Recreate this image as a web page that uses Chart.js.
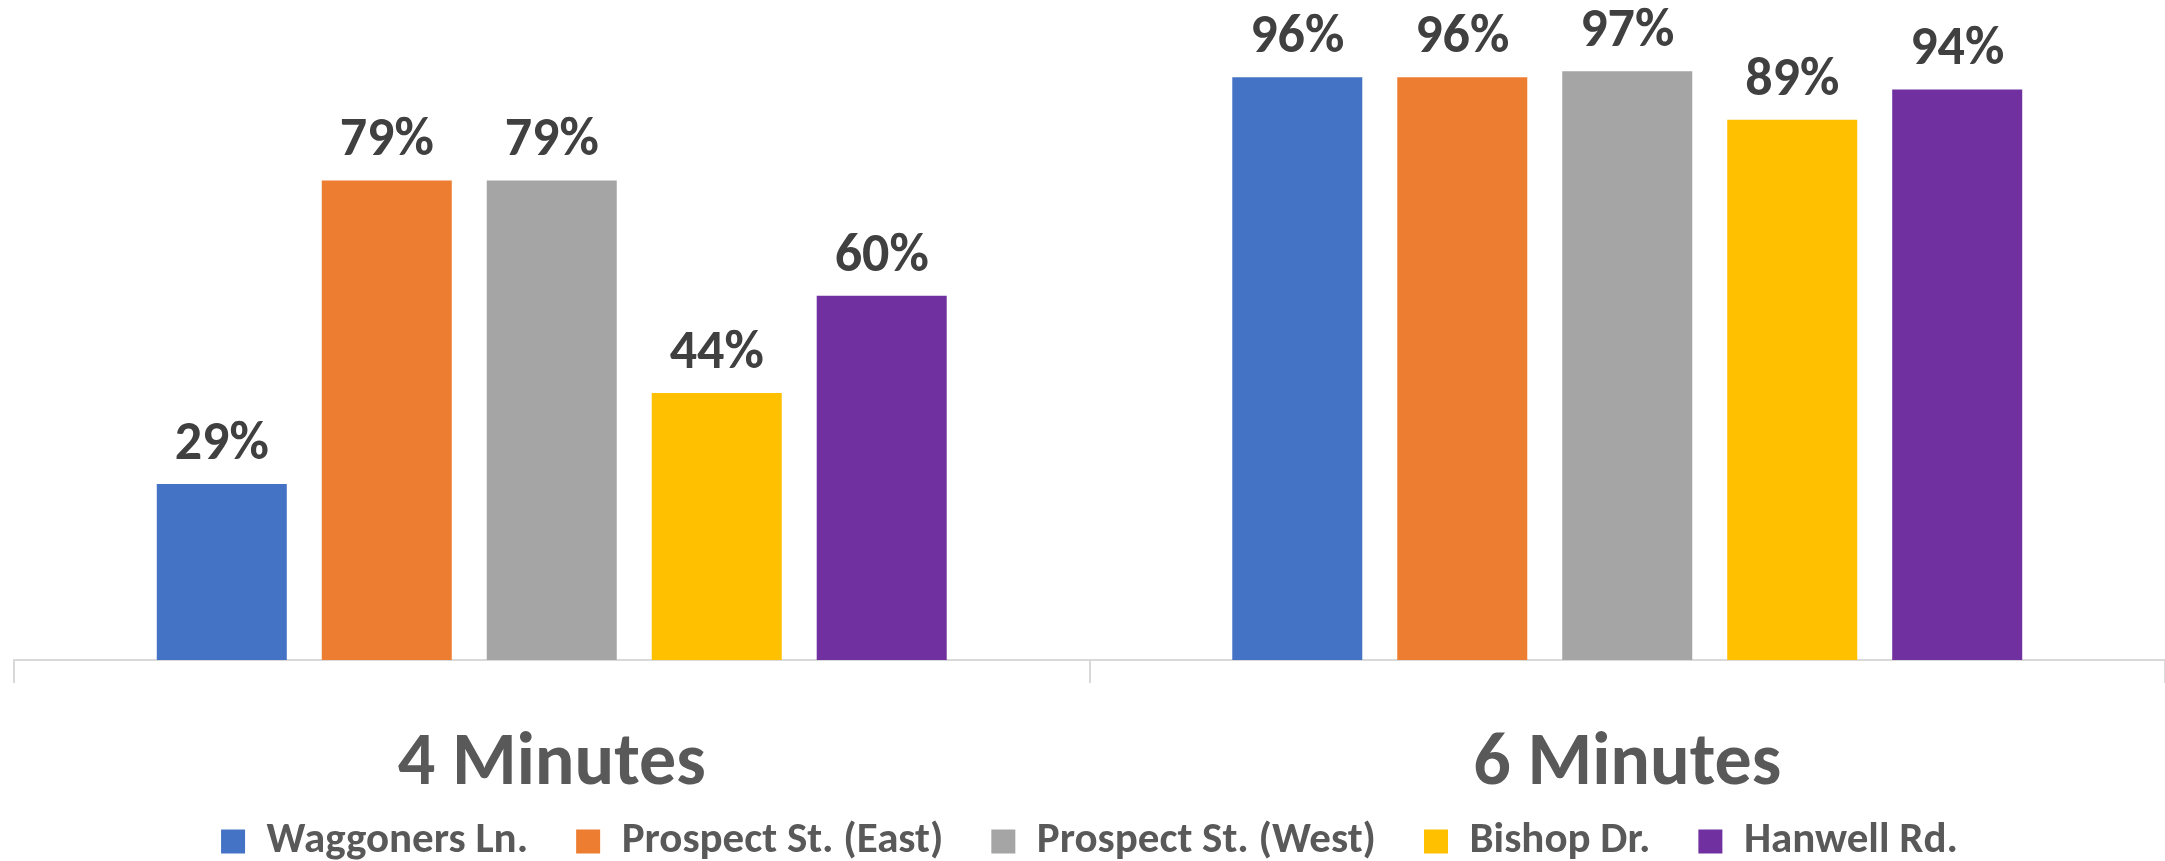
<!DOCTYPE html>
<html>
<head>
<meta charset="utf-8">
<script src="https://cdn.jsdelivr.net/npm/chart.js@4"></script>
<style>
  html, body { margin: 0; padding: 0; background: #fff; }
  #wrap { width: 2165px; height: 861px; }
</style>
</head>
<body>
<div id="wrap"><canvas id="myChart"></canvas></div>
<script>
// chart data
const categories = ["4 Minutes", "6 Minutes"];
const seriesNames = ["Waggoners Ln.", "Prospect St. (East)", "Prospect St. (West)", "Bishop Dr.", "Hanwell Rd."];
const waggoners = [29, 96];
const prospectEast = [79, 96];
const prospectWest = [79, 97];
const bishop = [44, 89];
const hanwell = [60, 94];
const colors = ["#4472C4", "#ED7D31", "#A5A5A5", "#FFC000", "#7030A0"];

const FONT = "Carlito, Lato, 'Open Sans', sans-serif";

// draws the % above each bar
const barLabels = {
  id: "barLabels",
  // let the category labels run past the short axis band (no clipping)
  afterLayout(chart) {
    chart.scales.x.bottom = chart.height;
  },
  afterDatasetsDraw(chart) {
    const ctx = chart.ctx;
    ctx.save();
    ctx.font = "bold 54px " + FONT;
    ctx.fillStyle = "#404040";
    ctx.textAlign = "center";
    ctx.textBaseline = "alphabetic";
    chart.data.datasets.forEach((ds, i) => {
      chart.getDatasetMeta(i).data.forEach((bar, j) => {
        ctx.fillText(ds.data[j] + "%", bar.x, bar.y - 25);
      });
    });
    ctx.restore();
  }
};

const seriesData = [waggoners, prospectEast, prospectWest, bishop, hanwell];

new Chart(document.getElementById("myChart"), {
  type: "bar",
  data: {
    labels: categories,
    datasets: seriesNames.map((name, i) => ({
      label: name,
      data: seriesData[i],
      backgroundColor: colors[i],
      borderWidth: 0
    }))
  },
  options: {
    responsive: true,
    maintainAspectRatio: false,
    animation: false,
    devicePixelRatio: 1,
    categoryPercentage: 0.767,
    barPercentage: 0.788,
    layout: { padding: { top: 53, left: 14, right: 0, bottom: -12 } },
    plugins: {
      legend: {
        position: "bottom",
        labels: {
          boxWidth: 24,
          boxHeight: 24,
          padding: 48,
          color: "#595959",
          font: { family: FONT, size: 43, weight: "bold" }
        }
      },
      tooltip: { enabled: false }
    },
    scales: {
      x: {
        offset: true,
        grid: {
          offset: true,
          drawOnChartArea: false,
          color: "#D9D9D9",
          lineWidth: 2,
          tickLength: 23
        },
        border: { color: "#D9D9D9", width: 2 },
        ticks: {
          color: "#595959",
          padding: 38,
          font: { family: FONT, size: 74, weight: "bold" }
        },
        // keep the axis band short so the legend sits close under it
        afterFit(scale) {
          scale.height = 112;
        }
      },
      y: {
        display: false,
        min: 0,
        max: 100
      }
    }
  },
  plugins: [barLabels]
});
</script>
</body>
</html>
